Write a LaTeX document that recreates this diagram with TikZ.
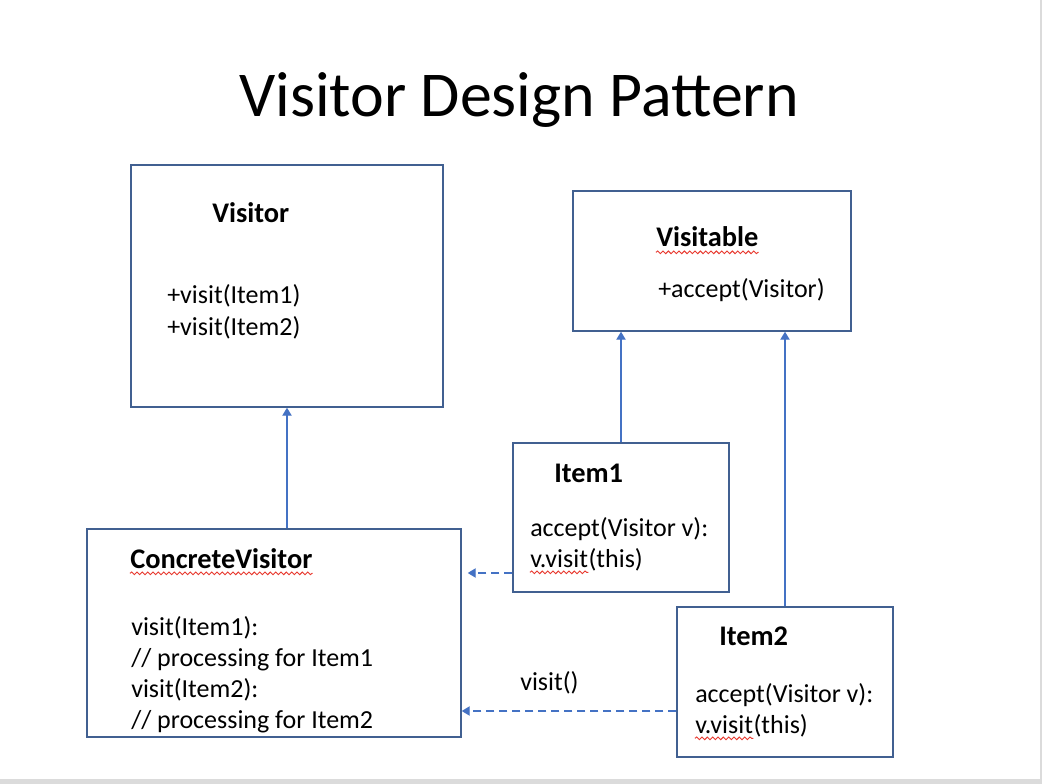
\documentclass[tikz,border=0pt]{standalone}
\usepackage{fontspec}
\setmainfont{Carlito}
\usetikzlibrary{arrows.meta, fit, decorations.pathmorphing}
\definecolor{boxblue}{RGB}{65,96,145}
\definecolor{arrowblue}{RGB}{68,114,196}
\definecolor{slidegray}{gray}{0.86}
\definecolor{squigred}{RGB}{232,58,48}

\begin{document}
\begin{tikzpicture}[x=0.75pt, y=-0.75pt,
  umlbox/.style={draw=boxblue, line width=1.1pt, inner sep=0pt},
  txt/.style={anchor=base west, inner sep=0pt, font=\fontsize{19.5}{23}\selectfont},
  hdr/.style={txt, font=\fontsize{21.3}{25}\selectfont\bfseries},
  inherit/.style={draw=arrowblue, line width=1pt, -{Triangle[length=6pt,width=7pt]}},
  calls/.style={inherit, dash pattern=on 6pt off 3.75pt},
  squig/.style={draw=squigred, line width=0.7pt, decorate, decoration={snake, amplitude=1pt, segment length=4pt}}]
 % slide
 \fill[slidegray] (0,0) rectangle (1042,784);
 \fill[white] (0,0) rectangle (1040,779);
 \useasboundingbox (0,0) rectangle (1042,784);
 % title
 \node[anchor=base, inner sep=0pt, font=\fontsize{47.9}{57}\selectfont] (title) at (519,117) {Visitor Design Pattern};
 % boxes
 \node[umlbox, fit={(131,165) (443,407)}] (vis) {};
 \node[umlbox, fit={(573,191) (851,331)}] (visable) {};
 \node[umlbox, fit={(513,443) (729,592)}] (item1) {};
 \node[umlbox, fit={(677,607) (893,757)}] (item2) {};
 \node[umlbox, fit={(87,529) (461,737)}] (cvis) {};
 % Visitor
 \node[hdr] (visname) at (212,223) {Visitor};
 \node[txt] (visop1) at (167,304) {+visit(Item1)};
 \node[txt] (visop2) at (167,335) {+visit(Item2)};
 % Visitable
 \node[hdr] (visablename) at (656,247) {Visitable};
 \node[txt] (visableop) at (658,297) {+accept(Visitor)};
 % Item1
 \node[hdr] (item1name) at (554,482) {Item1};
 \node[txt] (item1op) at (530,536) {accept(Visitor v):};
 \node[txt] (item1v) at (530,567) {v.visit};
 \node[txt, anchor=base west] (item1this) at (item1v.base east) {(this)};
 % Item2
 \node[hdr] (item2name) at (719,645) {Item2};
 \node[txt] (item2op) at (695,702) {accept(Visitor v):};
 \node[txt] (item2v) at (695,733) {v.visit};
 \node[txt, anchor=base west] (item2this) at (item2v.base east) {(this)};
 % ConcreteVisitor
 \node[hdr] (cvisname) at (130,568) {ConcreteVisitor};
 \node[txt] (cvisop1) at (131,635) {visit(Item1):};
 \node[txt] (cvisop2) at (131,666) {// processing for Item1};
 \node[txt] (cvisop3) at (131,697) {visit(Item2):};
 \node[txt] (cvisop4) at (131,728) {// processing for Item2};
 % spelling marks
 \draw[squig] ([yshift=-4pt]visablename.base west) -- ([yshift=-4pt]visablename.base east);
 \draw[squig] ([yshift=-4pt]cvisname.base west) -- ([yshift=-4pt]cvisname.base east);
 \draw[squig] ([yshift=-4pt]item1v.base west) -- ([yshift=-4pt]item1v.base east);
 \draw[squig] ([yshift=-4pt]item2v.base west) -- ([yshift=-4pt]item2v.base east);
 % inheritance
 \draw[inherit] (cvis.north -| vis.south) -- (vis.south);
 \draw[inherit] (item1.north) -- (item1.north |- visable.south);
 \draw[inherit] (item2.north) -- (item2.north |- visable.south);
 % calls
 \draw[calls] (item1.west |- 0,573) -- ([xshift=4.5pt]cvis.east |- 0,573);
 \draw[calls] (item2.west |- 0,711) -- (cvis.east |- 0,711);
 \node[txt] (calllabel) at (520,690) {visit()};
\end{tikzpicture}
\end{document}
